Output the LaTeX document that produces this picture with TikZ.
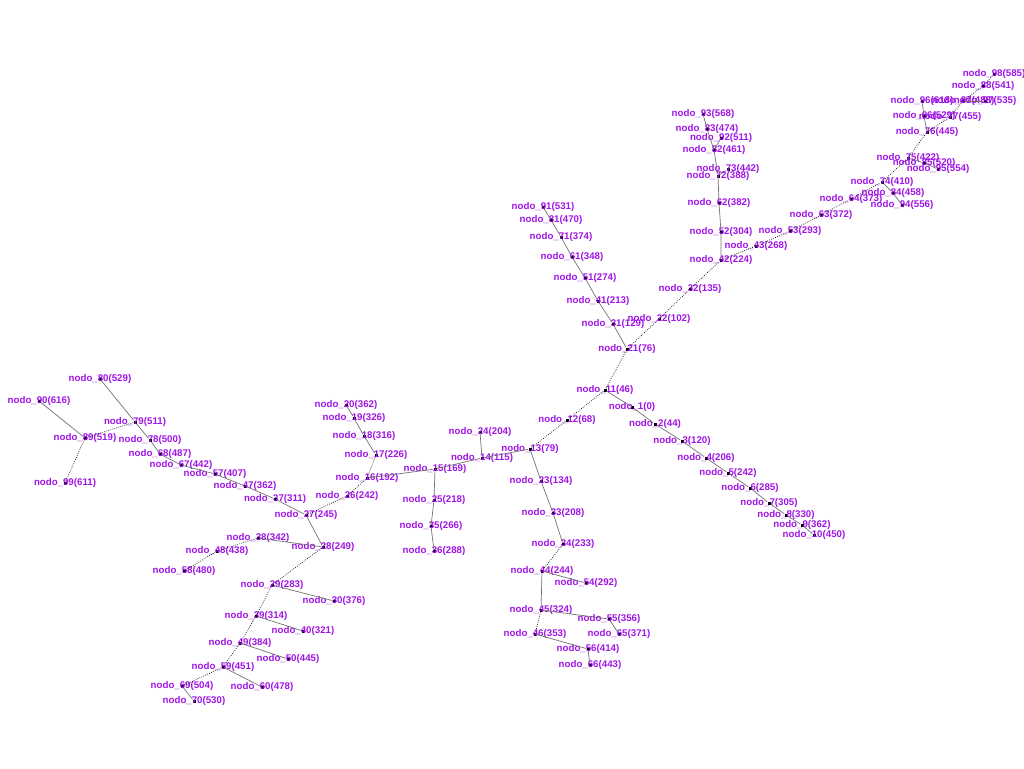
\documentclass[tikz,border=0pt]{standalone}
\usepackage{fontspec}
\setmainfont{Liberation Sans}
\usepackage{tikz}
\usepackage{xcolor}
\definecolor{nodopurple}{RGB}{160,20,230}

\begin{document}
\begin{tikzpicture}[x=0.25mm, y=-0.25mm,
    vertex/.style={fill=black, inner sep=0pt, minimum size=0.75mm},
    tag/.style={text=nodopurple, inner sep=0pt, font=\bfseries\fontsize{6.9}{8}\selectfont},
    treeedge/.style={black!55, line width=0.5pt},
    mainedge/.style={black, densely dotted, line width=0.5pt}]
    \useasboundingbox (0,0) rectangle (1024,768);

    % row 1 to 10
    \node[vertex, label={[tag]center:nodo\_1(0)}] (n1) at (632,407) {};
    \node[vertex, label={[tag]center:nodo\_2(44)}] (n2) at (655,424) {};
    \node[vertex, label={[tag]center:nodo\_3(120)}] (n3) at (682,441) {};
    \node[vertex, label={[tag]center:nodo\_4(206)}] (n4) at (706,458) {};
    \node[vertex, label={[tag]center:nodo\_5(242)}] (n5) at (728,473) {};
    \node[vertex, label={[tag]center:nodo\_6(285)}] (n6) at (750,488) {};
    \node[vertex, label={[tag]center:nodo\_7(305)}] (n7) at (769,503) {};
    \node[vertex, label={[tag]center:nodo\_8(330)}] (n8) at (786,515) {};
    \node[vertex, label={[tag]center:nodo\_9(362)}] (n9) at (802,525) {};
    \node[vertex, label={[tag]center:nodo\_10(450)}] (n10) at (814,535) {};
    % row 11 to 20
    \node[vertex, label={[tag]center:nodo\_11(46)}] (n11) at (605,390) {};
    \node[vertex, label={[tag]center:nodo\_12(68)}] (n12) at (567,420) {};
    \node[vertex, label={[tag]center:nodo\_13(79)}] (n13) at (530,449) {};
    \node[vertex, label={[tag]center:nodo\_14(115)}] (n14) at (482,458) {};
    \node[vertex, label={[tag]center:nodo\_15(169)}] (n15) at (435,469) {};
    \node[vertex, label={[tag]center:nodo\_16(192)}] (n16) at (367,478) {};
    \node[vertex, label={[tag]center:nodo\_17(226)}] (n17) at (376,455) {};
    \node[vertex, label={[tag]center:nodo\_18(316)}] (n18) at (364,436) {};
    \node[vertex, label={[tag]center:nodo\_19(326)}] (n19) at (354,418) {};
    \node[vertex, label={[tag]center:nodo\_20(362)}] (n20) at (346,405) {};
    % row 21 to 30
    \node[vertex, label={[tag]center:nodo\_21(76)}] (n21) at (627,349) {};
    \node[vertex, label={[tag]center:nodo\_22(102)}] (n22) at (659,319) {};
    \node[vertex, label={[tag]center:nodo\_23(134)}] (n23) at (541,481) {};
    \node[vertex, label={[tag]center:nodo\_24(204)}] (n24) at (480,432) {};
    \node[vertex, label={[tag]center:nodo\_25(218)}] (n25) at (434,500) {};
    \node[vertex, label={[tag]center:nodo\_26(242)}] (n26) at (347,496) {};
    \node[vertex, label={[tag]center:nodo\_27(245)}] (n27) at (306,515) {};
    \node[vertex, label={[tag]center:nodo\_28(249)}] (n28) at (323,547) {};
    \node[vertex, label={[tag]center:nodo\_29(283)}] (n29) at (272,585) {};
    \node[vertex, label={[tag]center:nodo\_30(376)}] (n30) at (334,601) {};
    % row 31 to 40
    \node[vertex, label={[tag]center:nodo\_31(129)}] (n31) at (613,324) {};
    \node[vertex, label={[tag]center:nodo\_32(135)}] (n32) at (690,289) {};
    \node[vertex, label={[tag]center:nodo\_33(208)}] (n33) at (553,513) {};
    \node[vertex, label={[tag]center:nodo\_34(233)}] (n34) at (563,544) {};
    \node[vertex, label={[tag]center:nodo\_35(266)}] (n35) at (431,526) {};
    \node[vertex, label={[tag]center:nodo\_36(288)}] (n36) at (434,551) {};
    \node[vertex, label={[tag]center:nodo\_37(311)}] (n37) at (275,499) {};
    \node[vertex, label={[tag]center:nodo\_38(342)}] (n38) at (258,538) {};
    \node[vertex, label={[tag]center:nodo\_39(314)}] (n39) at (256,616) {};
    \node[vertex, label={[tag]center:nodo\_40(321)}] (n40) at (303,631) {};
    % row 41 to 50
    \node[vertex, label={[tag]center:nodo\_41(213)}] (n41) at (598,301) {};
    \node[vertex, label={[tag]center:nodo\_42(224)}] (n42) at (721,260) {};
    \node[vertex, label={[tag]center:nodo\_43(268)}] (n43) at (756,246) {};
    \node[vertex, label={[tag]center:nodo\_44(244)}] (n44) at (542,571) {};
    \node[vertex, label={[tag]center:nodo\_45(324)}] (n45) at (541,610) {};
    \node[vertex, label={[tag]center:nodo\_46(353)}] (n46) at (535,634) {};
    \node[vertex, label={[tag]center:nodo\_47(362)}] (n47) at (245,486) {};
    \node[vertex, label={[tag]center:nodo\_48(438)}] (n48) at (217,551) {};
    \node[vertex, label={[tag]center:nodo\_49(384)}] (n49) at (240,643) {};
    \node[vertex, label={[tag]center:nodo\_50(445)}] (n50) at (288,659) {};
    % row 51 to 60
    \node[vertex, label={[tag]center:nodo\_51(274)}] (n51) at (585,278) {};
    \node[vertex, label={[tag]center:nodo\_52(304)}] (n52) at (721,232) {};
    \node[vertex, label={[tag]center:nodo\_53(293)}] (n53) at (790,231) {};
    \node[vertex, label={[tag]center:nodo\_54(292)}] (n54) at (586,583) {};
    \node[vertex, label={[tag]center:nodo\_55(356)}] (n55) at (609,619) {};
    \node[vertex, label={[tag]center:nodo\_56(414)}] (n56) at (588,649) {};
    \node[vertex, label={[tag]center:nodo\_57(407)}] (n57) at (215,474) {};
    \node[vertex, label={[tag]center:nodo\_58(480)}] (n58) at (184,571) {};
    \node[vertex, label={[tag]center:nodo\_59(451)}] (n59) at (223,667) {};
    \node[vertex, label={[tag]center:nodo\_60(478)}] (n60) at (262,687) {};
    % row 61 to 70
    \node[vertex, label={[tag]center:nodo\_61(348)}] (n61) at (572,257) {};
    \node[vertex, label={[tag]center:nodo\_62(382)}] (n62) at (719,203) {};
    \node[vertex, label={[tag]center:nodo\_63(372)}] (n63) at (821,215) {};
    \node[vertex, label={[tag]center:nodo\_64(373)}] (n64) at (851,199) {};
    \node[vertex, label={[tag]center:nodo\_65(371)}] (n65) at (619,634) {};
    \node[vertex, label={[tag]center:nodo\_66(443)}] (n66) at (590,665) {};
    \node[vertex, label={[tag]center:nodo\_67(442)}] (n67) at (181,465) {};
    \node[vertex, label={[tag]center:nodo\_68(487)}] (n68) at (160,454) {};
    \node[vertex, label={[tag]center:nodo\_69(504)}] (n69) at (182,686) {};
    \node[vertex, label={[tag]center:nodo\_70(530)}] (n70) at (194,701) {};
    % row 71 to 80
    \node[vertex, label={[tag]center:nodo\_71(374)}] (n71) at (561,237) {};
    \node[vertex, label={[tag]center:nodo\_72(388)}] (n72) at (718,176) {};
    \node[vertex, label={[tag]center:nodo\_73(442)}] (n73) at (728,169) {};
    \node[vertex, label={[tag]center:nodo\_74(410)}] (n74) at (882,182) {};
    \node[vertex, label={[tag]center:nodo\_75(422)}] (n75) at (908,158) {};
    \node[vertex, label={[tag]center:nodo\_76(445)}] (n76) at (927,132) {};
    \node[vertex, label={[tag]center:nodo\_77(455)}] (n77) at (950,117) {};
    \node[vertex, label={[tag]center:nodo\_78(500)}] (n78) at (150,440) {};
    \node[vertex, label={[tag]center:nodo\_79(511)}] (n79) at (135,422) {};
    \node[vertex, label={[tag]center:nodo\_80(529)}] (n80) at (100,379) {};
    % row 81 to 90
    \node[vertex, label={[tag]center:nodo\_81(470)}] (n81) at (551,220) {};
    \node[vertex, label={[tag]center:nodo\_82(461)}] (n82) at (714,150) {};
    \node[vertex, label={[tag]center:nodo\_83(474)}] (n83) at (707,129) {};
    \node[vertex, label={[tag]center:nodo\_84(458)}] (n84) at (893,193) {};
    \node[vertex, label={[tag]center:nodo\_85(520)}] (n85) at (924,163) {};
    \node[vertex, label={[tag]center:nodo\_86(529)}] (n86) at (924,116) {};
    \node[vertex, label={[tag]center:nodo\_87(488)}] (n87) at (963,101) {};
    \node[vertex, label={[tag]center:nodo\_88(541)}] (n88) at (983,86) {};
    \node[vertex, label={[tag]center:nodo\_89(519)}] (n89) at (85,438) {};
    \node[vertex, label={[tag]center:nodo\_90(616)}] (n90) at (39,401) {};
    % row 91 to 99
    \node[vertex, label={[tag]center:nodo\_91(531)}] (n91) at (543,207) {};
    \node[vertex, label={[tag]center:nodo\_92(511)}] (n92) at (721,138) {};
    \node[vertex, label={[tag]center:nodo\_93(568)}] (n93) at (703,114) {};
    \node[vertex, label={[tag]center:nodo\_94(556)}] (n94) at (902,205) {};
    \node[vertex, label={[tag]center:nodo\_95(554)}] (n95) at (938,169) {};
    \node[vertex, label={[tag]center:nodo\_96(618)}] (n96) at (922,101) {};
    \node[vertex, label={[tag]center:nodo\_97(535)}] (n97) at (985,101) {};
    \node[vertex, label={[tag]center:nodo\_98(585)}] (n98) at (994,74) {};
    \node[vertex, label={[tag]center:nodo\_99(611)}] (n99) at (65,483) {};

    % dotted edges
    \draw[mainedge] (n11) -- (n12) -- (n13);
    \draw[mainedge] (n11) -- (n21) -- (n22) -- (n32) -- (n42) -- (n43) -- (n53) -- (n63) -- (n64)
        -- (n74) -- (n75) -- (n76) -- (n77) -- (n87) -- (n88) -- (n98);
    \draw[mainedge] (n17) -- (n16) -- (n26) -- (n27);
    \draw[mainedge] (n28) -- (n29) -- (n39) -- (n49) -- (n59) -- (n69);
    \draw[mainedge] (n38) -- (n48) -- (n58);
    \draw[mainedge] (n79) -- (n89) -- (n99);
    \draw[mainedge] (n34) -- (n44);
    \draw[mainedge] (n45) -- (n46);
    \draw[mainedge] (n72) -- (n73);

    % gray edges
    \draw[treeedge] (n11) -- (n1) -- (n2) -- (n3) -- (n4) -- (n5) -- (n6) -- (n7) -- (n8) -- (n9) -- (n10);
    \draw[treeedge] (n13) -- (n14) -- (n15) -- (n16);
    \draw[treeedge] (n14) -- (n24);
    \draw[treeedge] (n15) -- (n25) -- (n35) -- (n36);
    \draw[treeedge] (n17) -- (n18) -- (n19) -- (n20);
    \draw[treeedge] (n27) -- (n28) -- (n38);
    \draw[treeedge] (n29) -- (n30);
    \draw[treeedge] (n39) -- (n40);
    \draw[treeedge] (n49) -- (n50);
    \draw[treeedge] (n59) -- (n60);
    \draw[treeedge] (n69) -- (n70);
    \draw[treeedge] (n27) -- (n37) -- (n47) -- (n57) -- (n67) -- (n68) -- (n78) -- (n79) -- (n80);
    \draw[treeedge] (n89) -- (n90);
    \draw[treeedge] (n21) -- (n31) -- (n41) -- (n51) -- (n61) -- (n71) -- (n81) -- (n91);
    \draw[treeedge] (n13) -- (n23) -- (n33) -- (n34);
    \draw[treeedge] (n54) -- (n44) -- (n45) -- (n55) -- (n65);
    \draw[treeedge] (n46) -- (n56) -- (n66);
    \draw[treeedge] (n42) -- (n52) -- (n62) -- (n72) -- (n82) -- (n83) -- (n93);
    \draw[treeedge] (n82) -- (n92);
    \draw[treeedge] (n74) -- (n84) -- (n94);
    \draw[treeedge] (n75) -- (n85) -- (n95);
    \draw[treeedge] (n76) -- (n86) -- (n96);
    \draw[treeedge] (n87) -- (n97);
\end{tikzpicture}
\end{document}
